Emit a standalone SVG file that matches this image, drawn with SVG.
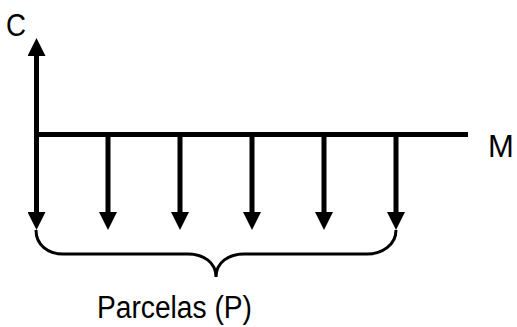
<svg xmlns="http://www.w3.org/2000/svg" width="517" height="327" viewBox="0 0 517 327">
<style>
.ln{stroke:#000;stroke-width:5;fill:none}
.br{stroke:#000;stroke-width:3;fill:none}
.lbl{font-family:"Liberation Sans",Arial,sans-serif;font-size:31px;fill:#000}
</style>
<defs>
<marker id="ah" markerUnits="userSpaceOnUse" markerWidth="18" markerHeight="18" viewBox="0 0 18 18" refX="0" refY="9" orient="auto">
<path d="M0,0 L18,9 L0,18 Z" fill="#000"/>
</marker>
</defs>
<rect width="517" height="327" fill="#fff"/>
<g id="connectors">
<line class="ln" x1="36.5" y1="134" x2="36.5" y2="56" marker-end="url(#ah)"/>
<line class="ln" x1="34" y1="134.5" x2="468" y2="134.5"/>
<line class="ln" x1="36.5" y1="134" x2="36.5" y2="212" marker-end="url(#ah)"/>
<line class="ln" x1="108" y1="134" x2="108" y2="212" marker-end="url(#ah)"/>
<line class="ln" x1="180" y1="134" x2="180" y2="212" marker-end="url(#ah)"/>
<line class="ln" x1="252" y1="134" x2="252" y2="212" marker-end="url(#ah)"/>
<line class="ln" x1="324" y1="134" x2="324" y2="212" marker-end="url(#ah)"/>
<line class="ln" x1="396" y1="134" x2="396" y2="212" marker-end="url(#ah)"/>
<path class="br" d="M36,230 C36,245 48,254 63,254 L188,254 C203,254 216,262 216,277 C216,262 229,254 244,254 L367,254 C382,254 396,245 396,230"/>
</g>
<g id="label-C"><text class="lbl" x="6" y="36" textLength="20" lengthAdjust="spacingAndGlyphs">C</text></g>
<g id="label-M"><text class="lbl" x="488" y="157">M</text></g>
<g id="label-P"><text class="lbl" x="97" y="318" textLength="155" lengthAdjust="spacingAndGlyphs">Parcelas (P)</text></g>
</svg>
